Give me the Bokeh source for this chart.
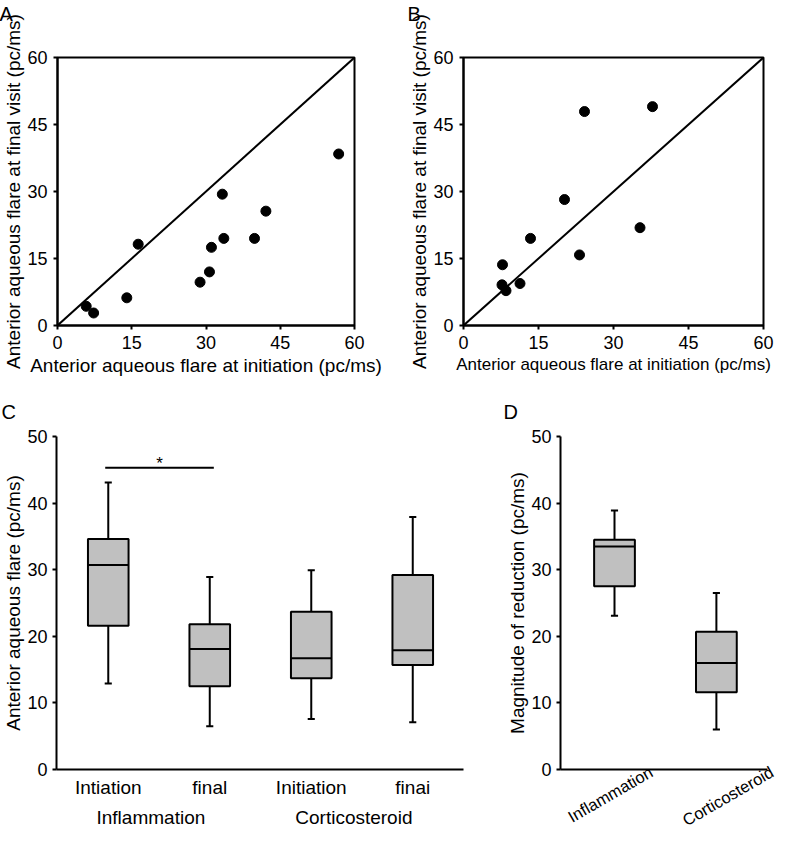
from math import pi
from bokeh.plotting import figure
from bokeh.layouts import column, row
from bokeh.models import Range1d, FixedTicker, LinearAxis, Slope, Title
from bokeh.embed import file_html
from bokeh.resources import INLINE
from bokeh.core.properties import value

FONT = "Liberation Sans"

# ---- Panel A data (initiation vs final, inflammation) ----
a_init = [5.8, 7.3, 14.0, 16.3, 28.8, 30.7, 31.1, 33.3, 33.6, 39.8, 42.1, 56.8]
a_final = [4.3, 2.8, 6.2, 18.2, 9.7, 12.0, 17.5, 29.4, 19.5, 19.5, 25.6, 38.4]
# ---- Panel B data (initiation vs final, corticosteroid) ----
b_init = [7.8, 7.7, 8.5, 11.3, 13.4, 20.2, 23.2, 24.2, 35.3, 37.8]
b_final = [13.6, 9.1, 7.8, 9.4, 19.5, 28.2, 15.8, 47.9, 21.9, 49.0]
scatter_ticks = [0, 15, 30, 45, 60]

# ---- Panel C data (box plots) ----
c_pos = [1, 2, 3, 4]
c_labels = ["Intiation", "final", "Initiation", "finai"]
c_group_pos = [1.42, 3.42]
c_groups = ["Inflammation", "Corticosteroid"]
c_low = [12.9, 6.5, 7.6, 7.1]
c_q1 = [21.6, 12.5, 13.7, 15.7]
c_med = [30.7, 18.1, 16.7, 17.9]
c_q3 = [34.6, 21.8, 23.7, 29.2]
c_high = [43.1, 28.9, 29.9, 37.9]
sig_x = [0.97, 2.04]
sig_y = 45.3
sig_text = "*"

# ---- Panel D data (magnitude of reduction) ----
d_pos = [1, 2]
d_labels = ["Inflammation", "Corticosteroid"]
d_low = [23.1, 6.0]
d_q1 = [27.5, 11.6]
d_med = [33.5, 16.0]
d_q3 = [34.5, 20.7]
d_high = [38.9, 26.5]
box_ticks = [0, 10, 20, 30, 40, 50]

BOX_W = 0.4
CAP_W = 0.07
GREY = "#c0c0c0"
# slanted labels are anchored at their upper-right end: shift anchors right
D_LABEL_SHIFT = [0.36, 0.57]


def style_letter(t, letter, offset, standoff, valign):
    t.text = letter
    t.text_font = FONT
    t.text_font_size = "20px"
    t.text_font_style = "normal"
    t.text_color = "black"
    t.align = "left"
    t.offset = offset
    t.standoff = standoff
    t.vertical_align = valign


def style_axis(ax, tick_size, label_size, tick_out=4, standoff=8, label_standoff=2):
    ax.axis_line_color = "black"
    ax.axis_line_width = 2
    ax.major_tick_line_color = "black"
    ax.major_tick_line_width = 2
    ax.major_tick_out = tick_out
    ax.major_tick_in = 0
    ax.minor_tick_line_color = None
    ax.major_label_text_font = FONT
    ax.major_label_text_font_size = tick_size
    ax.major_label_text_color = "black"
    ax.major_label_standoff = standoff
    ax.axis_label_text_font = FONT
    ax.axis_label_text_font_size = label_size
    ax.axis_label_text_font_style = "normal"
    ax.axis_label_text_color = "black"
    ax.axis_label_standoff = label_standoff


def scatter_panel(xs, ys, letter, width, height, mbl, mbr, mbt, mbb, toff, xl_size):
    p = figure(width=width, height=height, x_range=Range1d(0, 60), y_range=Range1d(0, 60),
               output_backend="svg", toolbar_location=None,
               min_border_left=mbl, min_border_right=mbr, min_border_top=mbt, min_border_bottom=mbb)
    p.grid.visible = False
    p.outline_line_color = "black"
    p.outline_line_width = 2
    p.outline_line_alpha = 1
    style_axis(p.xaxis[0], "18px", xl_size, tick_out=4, standoff=6, label_standoff=3)
    style_axis(p.yaxis[0], "18px", "19px", tick_out=4, standoff=6, label_standoff=0)
    p.xaxis.ticker = FixedTicker(ticks=scatter_ticks)
    p.yaxis.ticker = FixedTicker(ticks=scatter_ticks)
    p.xaxis.axis_label = "Anterior aqueous flare at initiation (pc/ms)"
    p.yaxis.axis_label = "Anterior aqueous flare at final visit (pc/ms)"
    p.add_layout(Slope(gradient=1, y_intercept=0, line_color="black", line_width=2))
    p.scatter(xs, ys, size=10, color="black")
    # panel letter (outer) + empty spacer title (next to the frame)
    style_letter(p.title, letter, toff, 0, "top")
    spacer = Title(text=" ", text_font_size="10px", standoff=18)
    p.add_layout(spacer, "above")
    return p


def box_panel(pos, low, q1, med, q3, high, p):
    xs_l = [x - CAP_W / 2 for x in pos]
    xs_r = [x + CAP_W / 2 for x in pos]
    p.segment(x0=pos, y0=q3, x1=pos, y1=high, line_color="black", line_width=2)
    p.segment(x0=pos, y0=q1, x1=pos, y1=low, line_color="black", line_width=2)
    p.segment(x0=xs_l, y0=high, x1=xs_r, y1=high, line_color="black", line_width=2)
    p.segment(x0=xs_l, y0=low, x1=xs_r, y1=low, line_color="black", line_width=2)
    p.vbar(x=pos, width=BOX_W, bottom=q1, top=q3, fill_color=GREY, line_color="black", line_width=2)
    mx_l = [x - BOX_W / 2 for x in pos]
    mx_r = [x + BOX_W / 2 for x in pos]
    p.segment(x0=mx_l, y0=med, x1=mx_r, y1=med, line_color="black", line_width=2)


pA = scatter_panel(a_init, a_final, "A", 390, 380, 57, 36, 56, 55, -58, "19px")
pB = scatter_panel(b_init, b_final, "B", 386, 380, 73, 13, 57, 53, -56, "17px")

# ---- Panel C ----
pC = figure(width=490, height=459, x_range=Range1d(0.49, 4.5), y_range=Range1d(0, 50),
            output_backend="svg", toolbar_location=None,
            min_border_left=53, min_border_right=27, min_border_top=56, min_border_bottom=69)
pC.grid.visible = False
pC.outline_line_color = None
style_axis(pC.yaxis[0], "18px", "19px", tick_out=4, standoff=5, label_standoff=0)
pC.yaxis.ticker = FixedTicker(ticks=box_ticks)
pC.yaxis.axis_label = "Anterior aqueous flare (pc/ms)"
style_axis(pC.xaxis[0], "19px", "19px", tick_out=0, standoff=7)
pC.xaxis.ticker = FixedTicker(ticks=c_pos)
pC.xaxis.major_label_overrides = {k: v for k, v in zip(c_pos, c_labels)}
pC.xaxis.major_tick_line_color = None
gax = LinearAxis(ticker=FixedTicker(ticks=c_group_pos),
                 major_label_overrides={k: v for k, v in zip(c_group_pos, c_groups)})
style_axis(gax, "19px", "19px", tick_out=0, standoff=6)
gax.axis_line_color = None
gax.major_tick_line_color = None
pC.add_layout(gax, "below")
box_panel(c_pos, c_low, c_q1, c_med, c_q3, c_high, pC)
pC.line(x=sig_x, y=[sig_y, sig_y], line_color="black", line_width=2)
pC.text(x=[sum(sig_x) / 2], y=[sig_y], text=[sig_text], text_font=value(FONT),
        text_font_size="17px", text_align="center", text_baseline="alphabetic", y_offset=-4)
style_letter(pC.title, "C", -55, 28, "bottom")

# ---- Panel D ----
pD = figure(width=286, height=459, x_range=Range1d(0.47, 2.59), y_range=Range1d(0, 50),
            output_backend="svg", toolbar_location=None,
            min_border_left=70, min_border_right=0, min_border_top=56, min_border_bottom=69)
pD.grid.visible = False
pD.outline_line_color = None
style_axis(pD.yaxis[0], "18px", "19px", tick_out=4, standoff=5, label_standoff=0)
pD.yaxis.ticker = FixedTicker(ticks=box_ticks)
pD.yaxis.axis_label = "Magnitude of reduction (pc/ms)"
style_axis(pD.xaxis[0], "16px", "19px", tick_out=0, standoff=0)
pD.xaxis.ticker = FixedTicker(ticks=[])
pD.xaxis.bounds = (0.47, 2.5)
d_label_pos = [x + s for x, s in zip(d_pos, D_LABEL_SHIFT)]
dax = LinearAxis(ticker=FixedTicker(ticks=d_label_pos),
                 major_label_overrides={k: v for k, v in zip(d_label_pos, d_labels)})
style_axis(dax, "16.5px", "17px", tick_out=0, standoff=1)
dax.axis_line_color = None
dax.major_tick_line_color = None
dax.major_label_orientation = pi / 6
pD.add_layout(dax, "below")
box_panel(d_pos, d_low, d_q1, d_med, d_q3, d_high, pD)
style_letter(pD.title, "D", -57, 28, "bottom")

layout = column(row(pA, pB), row(pC, pD))
open("out.html", "w").write(file_html(layout, INLINE))
